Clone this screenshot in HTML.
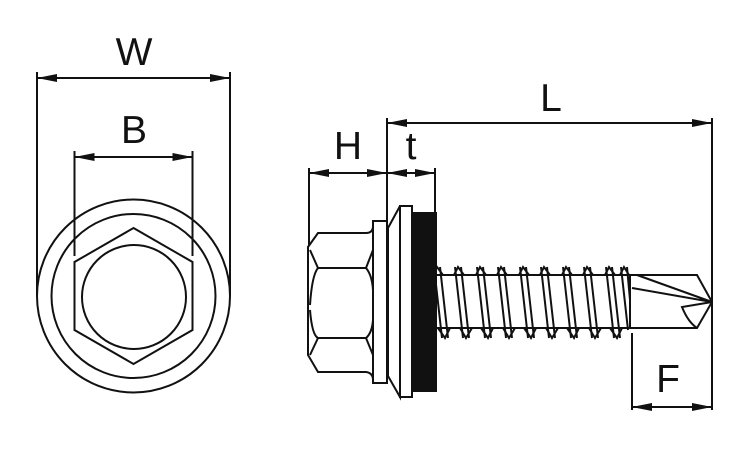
<!DOCTYPE html>
<html><head><style>body{margin:0;background:#fff}svg{display:block}text{font-family:"Liberation Sans",sans-serif;font-size:39px;fill:#111}</style></head><body>
<svg width="750" height="450" viewBox="0 0 750 450" xmlns="http://www.w3.org/2000/svg">
<defs>
<marker id="a" viewBox="0 0 20 10" refX="20" refY="5" markerWidth="20" markerHeight="10" markerUnits="userSpaceOnUse" orient="auto-start-reverse"><path d="M0,1 L20,5 L0,9z" fill="#111"/></marker>
</defs>
<g stroke="#111" stroke-width="2" fill="none">
<circle cx="133.5" cy="296" r="96.5"/>
<circle cx="133.5" cy="296" r="82"/>
<polygon points="133.5,228 192.5,262 192.5,330 133.5,364 74.5,330 74.5,262" fill="#fff"/>
<circle cx="134" cy="297" r="52"/>
<line x1="37" y1="72" x2="37" y2="296"/>
<line x1="230" y1="72" x2="230" y2="296"/>
<line x1="74.5" y1="151" x2="74.5" y2="256"/>
<line x1="192.5" y1="151" x2="192.5" y2="256"/>
<line x1="37" y1="78" x2="230" y2="78" marker-start="url(#a)" marker-end="url(#a)"/>
<line x1="74.5" y1="157" x2="192.5" y2="157" marker-start="url(#a)" marker-end="url(#a)"/>
<path d="M318,233 L366,233 Q373,233 373,226 L373,380 Q373,373 366,372 L318,372 L308,355 L308,247 Z" fill="#fff"/>
<path d="M310,305 Q312,275 318,268 L366,268 Q372,275 373,290"/>
<path d="M318,268 L310,250 M366,268 L373,250"/>
<path d="M310,310 Q312,335 318,338 L366,338 Q372,333 373,320"/>
<path d="M318,338 L310,355 M366,338 L373,355"/>
<rect x="373" y="221" width="14" height="162" fill="#fff"/>
<path d="M388,228 L400,206 L400,397 L388,376 Z" fill="#fff"/>
<rect x="400" y="206" width="12" height="191" fill="#fff"/>
<rect x="412" y="213" width="24" height="178" fill="#111"/>
<path d="M436,275 L630,275 M436,328 L630,328"/>
<g stroke-width="2">
<path d="M434,267 L442,338 M440,267 L448,338 M455,267 L463,338 M461,267 L469,338 M477,267 L485,338 M483,267 L491,338 M498,267 L506,338 M504,267 L512,338 M520,267 L528,338 M526,267 L534,338 M541,267 L549,338 M547,267 L555,338 M563,267 L571,338 M569,267 L577,338 M584,267 L592,338 M590,267 L598,338 M606,267 L614,338 M612,267 L620,338 M621,267 L628,330 M627,267 L630,300"/>
<path d="M432,275 L437,267 L443,275 M454,275 L458,267 L464,275 M476,275 L480,267 L486,275 M497,275 L501,267 L507,275 M519,275 L523,267 L529,275 M540,275 L544,267 L550,275 M562,275 L566,267 L572,275 M583,275 L587,267 L593,275 M605,275 L609,267 L615,275 M620,275 L624,267 L629,275"/>
<path d="M438,328 L445,338 L450,328 M460,328 L466,338 L472,328 M481,328 L488,338 L493,328 M503,328 L509,338 L515,328 M524,328 L531,338 L536,328 M546,328 L552,338 L558,328 M567,328 L574,338 L579,328 M589,328 L595,338 L601,328 M610,328 L617,338 L622,328"/>
</g>
<path d="M630,275 L697,275 L712,302 L697,328 L630,328" fill="#fff"/>
<path d="M630,275 L630,328"/>
<path d="M637,275 L712,302 M632,288 L712,302 L682,307 Q688,322 697,328"/>
<line x1="309" y1="168" x2="309" y2="245"/>
<line x1="387" y1="118" x2="387" y2="221"/>
<line x1="435" y1="168" x2="435" y2="213"/>
<line x1="712" y1="118" x2="712" y2="410"/>
<line x1="632" y1="333" x2="632" y2="410"/>
<line x1="309" y1="173" x2="387" y2="173" marker-start="url(#a)" marker-end="url(#a)"/>
<line x1="387" y1="173" x2="435" y2="173" marker-start="url(#a)" marker-end="url(#a)"/>
<line x1="387" y1="123" x2="712" y2="123" marker-start="url(#a)" marker-end="url(#a)"/>
<line x1="632" y1="407" x2="712" y2="407" marker-start="url(#a)" marker-end="url(#a)"/>
</g>
<text x="134" y="65" text-anchor="middle">W</text>
<text x="134" y="143" text-anchor="middle">B</text>
<text x="348" y="159" text-anchor="middle">H</text>
<text x="411" y="159" text-anchor="middle">t</text>
<text x="551" y="111" text-anchor="middle">L</text>
<text x="668" y="392" text-anchor="middle">F</text>
</svg>
</body></html>
